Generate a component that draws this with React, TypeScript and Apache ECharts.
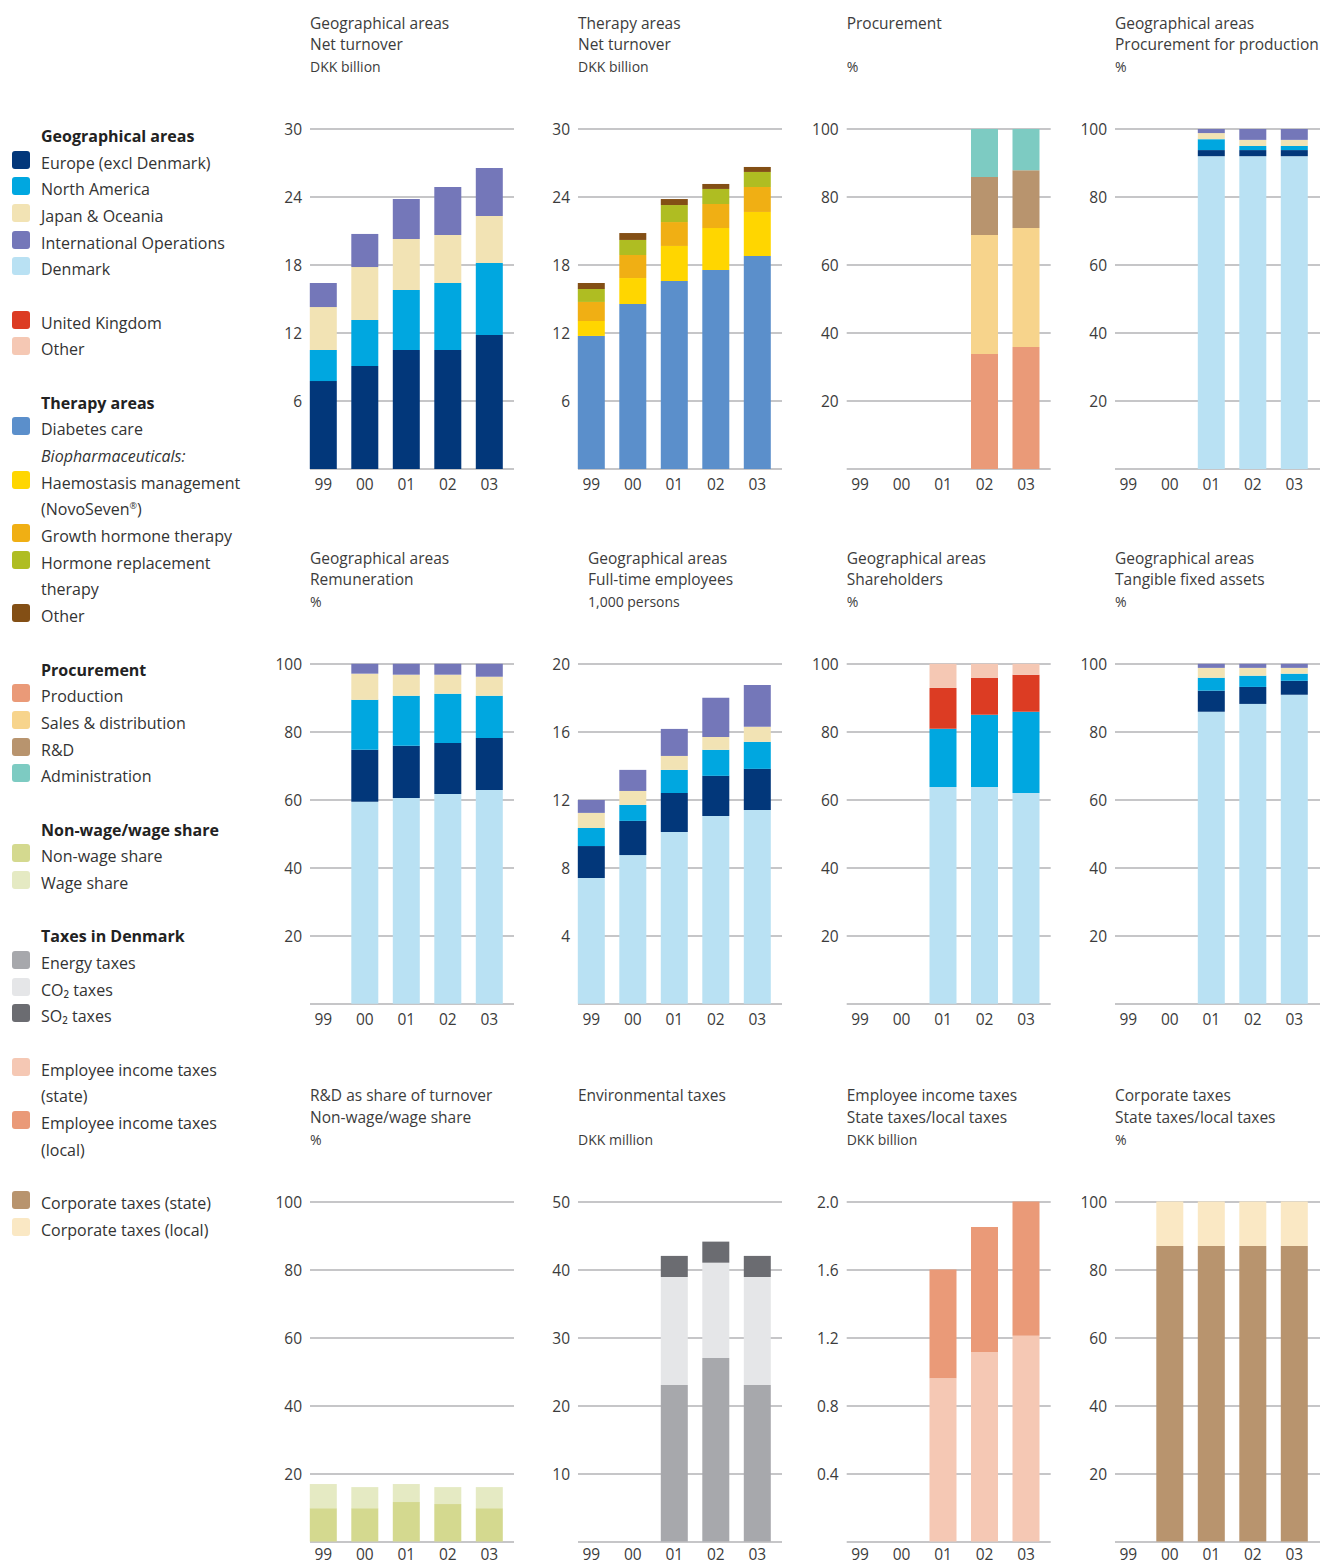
import React, { useEffect, useRef } from 'react';
import * as echarts from 'echarts';

// ---------- categories ----------
const YEARS = ['99', '00', '01', '02', '03'];

// ---------- 1. Geographical areas – Net turnover (DKK billion) ----------
const turnoverEurope = [7.76, 9.09, 10.5, 10.5, 11.82];
const turnoverNorthAmerica = [2.74, 4.06, 5.29, 5.91, 6.36];
const turnoverJapan = [3.79, 4.67, 4.5, 4.24, 4.14];
const turnoverIntl = [2.12, 2.92, 3.53, 4.23, 4.24];

// ---------- 2. Therapy areas – Net turnover (DKK billion) ----------
const therapyDiabetes = [11.74, 14.56, 16.59, 17.56, 18.79];
const therapyHaemostasis = [1.32, 2.29, 3.09, 3.7, 3.89];
const therapyGrowth = [1.68, 2.03, 2.11, 2.12, 2.2];
const therapyHrt = [1.14, 1.33, 1.5, 1.33, 1.33];
const therapyOther = [0.53, 0.61, 0.53, 0.44, 0.44];

// ---------- 3. Procurement (%) ----------
const procProduction = [null, null, null, 33.8, 35.9];
const procSales = [null, null, null, 35.0, 35.0];
const procRnd = [null, null, null, 17.1, 17.0];
const procAdmin = [null, null, null, 14.1, 12.1];

// ---------- 4. Procurement for production (%) ----------
const ppDenmark = [null, null, 92.0, 92.0, 92.0];
const ppEurope = [null, null, 1.8, 1.8, 1.8];
const ppNorthAmerica = [null, null, 3.2, 1.2, 1.2];
const ppJapan = [null, null, 1.8, 1.8, 1.8];
const ppIntl = [null, null, 1.2, 3.2, 3.2];

// ---------- 5. Remuneration (%) ----------
const remDenmark = [null, 59.4, 60.5, 61.7, 62.9];
const remEurope = [null, 15.3, 15.4, 15.0, 15.3];
const remNorthAmerica = [null, 14.7, 14.7, 14.5, 12.4];
const remJapan = [null, 7.7, 6.2, 5.6, 5.6];
const remIntl = [null, 2.9, 3.2, 3.2, 3.8];

// ---------- 6. Full-time employees (1,000 persons) ----------
const empDenmark = [7.4, 8.75, 10.11, 11.05, 11.4];
const empEurope = [1.88, 2.01, 2.29, 2.36, 2.42];
const empNorthAmerica = [1.06, 0.94, 1.36, 1.53, 1.59];
const empJapan = [0.89, 0.82, 0.82, 0.76, 0.88];
const empIntl = [0.76, 1.24, 1.59, 2.3, 2.47];

// ---------- 7. Shareholders (%) ----------
const shDenmark = [null, null, 63.8, 63.8, 62.0];
const shNorthAmerica = [null, null, 17.1, 21.2, 23.9];
const shUk = [null, null, 12.0, 10.9, 10.9];
const shOther = [null, null, 7.1, 4.1, 3.2];

// ---------- 8. Tangible fixed assets (%) ----------
const tfaDenmark = [null, null, 85.9, 88.2, 90.9];
const tfaEurope = [null, null, 6.2, 5.0, 4.1];
const tfaNorthAmerica = [null, null, 3.8, 3.3, 2.1];
const tfaJapan = [null, null, 2.9, 2.3, 1.7];
const tfaIntl = [null, null, 1.2, 1.2, 1.2];

// ---------- 9. R&D as share of turnover (%) ----------
const rdNonWage = [9.8, 9.8, 11.6, 11.0, 9.8];
const rdWage = [7.1, 6.2, 5.3, 5.0, 6.2];

// ---------- 10. Environmental taxes (DKK million) ----------
const envEnergy = [null, null, 23.0, 27.0, 23.0];
const envCo2 = [null, null, 15.9, 14.0, 15.9];
const envSo2 = [null, null, 3.1, 3.1, 3.1];

// ---------- 11. Employee income taxes (DKK billion) ----------
const eitState = [null, null, 0.96, 1.115, 1.21];
const eitLocal = [null, null, 0.64, 0.735, 0.79];

// ---------- 12. Corporate taxes (%) ----------
const corpState = [null, 86.9, 86.9, 86.9, 86.9];
const corpLocal = [null, 13.1, 13.1, 13.1, 13.1];

// ---------- colours ----------
const C = {
  europe: '#02377a', na: '#00a7e0', japan: '#f2e3b4', io: '#7477b9', denmark: '#b9e1f3',
  uk: '#dc3c23', otherGeo: '#f5c8b4',
  diabetes: '#5b8fcb', haemo: '#ffd600', gh: '#f0af14', hrt: '#afbd22', otherTh: '#834f15',
  production: '#ea9a78', sales: '#f7d48c', rnd: '#b8946e', admin: '#7dcbc2',
  nonwage: '#d4d98f', wage: '#e5eac3',
  energy: '#a7a8ac', co2: '#e5e6e8', so2: '#6b6c71',
  empState: '#f5c8b4', empLocal: '#ea9a78', corpState: '#b8946e', corpLocal: '#fae8c4',
};

const FONT = '"Open Sans", "Noto Sans", sans-serif';
const TEXT = '#3c3c3c';
const GRIDLINE = '#b3b3b6';

type S = { name: string; color: string; data: (number | null)[] };
type Chart = { row: number; col: number; titles: string[]; titleX?: number; max: number; interval: number; decimals?: number; series: S[] };

const CHARTS: Chart[] = [
  { row: 0, col: 0, titles: ['Geographical areas', 'Net turnover', 'DKK billion'], max: 30, interval: 6, series: [
    { name: 'Europe (excl Denmark)', color: C.europe, data: turnoverEurope },
    { name: 'North America', color: C.na, data: turnoverNorthAmerica },
    { name: 'Japan & Oceania', color: C.japan, data: turnoverJapan },
    { name: 'International Operations', color: C.io, data: turnoverIntl },
  ] },
  { row: 0, col: 1, titles: ['Therapy areas', 'Net turnover', 'DKK billion'], max: 30, interval: 6, series: [
    { name: 'Diabetes care', color: C.diabetes, data: therapyDiabetes },
    { name: 'Haemostasis management', color: C.haemo, data: therapyHaemostasis },
    { name: 'Growth hormone therapy', color: C.gh, data: therapyGrowth },
    { name: 'Hormone replacement therapy', color: C.hrt, data: therapyHrt },
    { name: 'Other', color: C.otherTh, data: therapyOther },
  ] },
  { row: 0, col: 2, titles: ['Procurement', '', '%'], max: 100, interval: 20, series: [
    { name: 'Production', color: C.production, data: procProduction },
    { name: 'Sales & distribution', color: C.sales, data: procSales },
    { name: 'R&D', color: C.rnd, data: procRnd },
    { name: 'Administration', color: C.admin, data: procAdmin },
  ] },
  { row: 0, col: 3, titles: ['Geographical areas', 'Procurement for production', '%'], max: 100, interval: 20, series: [
    { name: 'Denmark', color: C.denmark, data: ppDenmark },
    { name: 'Europe (excl Denmark)', color: C.europe, data: ppEurope },
    { name: 'North America', color: C.na, data: ppNorthAmerica },
    { name: 'Japan & Oceania', color: C.japan, data: ppJapan },
    { name: 'International Operations', color: C.io, data: ppIntl },
  ] },
  { row: 1, col: 0, titles: ['Geographical areas', 'Remuneration', '%'], max: 100, interval: 20, series: [
    { name: 'Denmark', color: C.denmark, data: remDenmark },
    { name: 'Europe (excl Denmark)', color: C.europe, data: remEurope },
    { name: 'North America', color: C.na, data: remNorthAmerica },
    { name: 'Japan & Oceania', color: C.japan, data: remJapan },
    { name: 'International Operations', color: C.io, data: remIntl },
  ] },
  { row: 1, col: 1, titles: ['Geographical areas', 'Full-time employees', '1,000 persons'], titleX: 588, max: 20, interval: 4, series: [
    { name: 'Denmark', color: C.denmark, data: empDenmark },
    { name: 'Europe (excl Denmark)', color: C.europe, data: empEurope },
    { name: 'North America', color: C.na, data: empNorthAmerica },
    { name: 'Japan & Oceania', color: C.japan, data: empJapan },
    { name: 'International Operations', color: C.io, data: empIntl },
  ] },
  { row: 1, col: 2, titles: ['Geographical areas', 'Shareholders', '%'], max: 100, interval: 20, series: [
    { name: 'Denmark', color: C.denmark, data: shDenmark },
    { name: 'North America', color: C.na, data: shNorthAmerica },
    { name: 'United Kingdom', color: C.uk, data: shUk },
    { name: 'Other', color: C.otherGeo, data: shOther },
  ] },
  { row: 1, col: 3, titles: ['Geographical areas', 'Tangible fixed assets', '%'], max: 100, interval: 20, series: [
    { name: 'Denmark', color: C.denmark, data: tfaDenmark },
    { name: 'Europe (excl Denmark)', color: C.europe, data: tfaEurope },
    { name: 'North America', color: C.na, data: tfaNorthAmerica },
    { name: 'Japan & Oceania', color: C.japan, data: tfaJapan },
    { name: 'International Operations', color: C.io, data: tfaIntl },
  ] },
  { row: 2, col: 0, titles: ['R&D as share of turnover', 'Non-wage/wage share', '%'], max: 100, interval: 20, series: [
    { name: 'Non-wage share', color: C.nonwage, data: rdNonWage },
    { name: 'Wage share', color: C.wage, data: rdWage },
  ] },
  { row: 2, col: 1, titles: ['Environmental taxes', '', 'DKK million'], max: 50, interval: 10, series: [
    { name: 'Energy taxes', color: C.energy, data: envEnergy },
    { name: 'CO2 taxes', color: C.co2, data: envCo2 },
    { name: 'SO2 taxes', color: C.so2, data: envSo2 },
  ] },
  { row: 2, col: 2, titles: ['Employee income taxes', 'State taxes/local taxes', 'DKK billion'], max: 2, interval: 0.4, decimals: 1, series: [
    { name: 'Employee income taxes (state)', color: C.empState, data: eitState },
    { name: 'Employee income taxes (local)', color: C.empLocal, data: eitLocal },
  ] },
  { row: 2, col: 3, titles: ['Corporate taxes', 'State taxes/local taxes', '%'], max: 100, interval: 20, series: [
    { name: 'Corporate taxes (state)', color: C.corpState, data: corpState },
    { name: 'Corporate taxes (local)', color: C.corpLocal, data: corpLocal },
  ] },
];

// legend: [label, colour | null, kind, y]
type L = [string, string | null, 'head' | 'item' | 'italic' | 'cont', number];
const LEGEND: L[] = [
  ['Geographical areas', null, 'head', 136],
  ['Europe (excl Denmark)', C.europe, 'item', 163],
  ['North America', C.na, 'item', 189],
  ['Japan & Oceania', C.japan, 'item', 216],
  ['International Operations', C.io, 'item', 243],
  ['Denmark', C.denmark, 'item', 269],
  ['United Kingdom', C.uk, 'item', 323],
  ['Other', C.otherGeo, 'item', 349],
  ['Therapy areas', null, 'head', 403],
  ['Diabetes care', C.diabetes, 'item', 429],
  ['Biopharmaceuticals:', null, 'italic', 456],
  ['Haemostasis management', C.haemo, 'item', 483],
  ['(NovoSeven{sup|®})', null, 'cont', 509],
  ['Growth hormone therapy', C.gh, 'item', 536],
  ['Hormone replacement', C.hrt, 'item', 563],
  ['therapy', null, 'cont', 589],
  ['Other', C.otherTh, 'item', 616],
  ['Procurement', null, 'head', 670],
  ['Production', C.production, 'item', 696],
  ['Sales & distribution', C.sales, 'item', 723],
  ['R&D', C.rnd, 'item', 750],
  ['Administration', C.admin, 'item', 776],
  ['Non-wage/wage share', null, 'head', 830],
  ['Non-wage share', C.nonwage, 'item', 856],
  ['Wage share', C.wage, 'item', 883],
  ['Taxes in Denmark', null, 'head', 936],
  ['Energy taxes', C.energy, 'item', 963],
  ['CO₂ taxes', C.co2, 'item', 990],
  ['SO₂ taxes', C.so2, 'item', 1016],
  ['Employee income taxes', C.empState, 'item', 1070],
  ['(state)', null, 'cont', 1096],
  ['Employee income taxes', C.empLocal, 'item', 1123],
  ['(local)', null, 'cont', 1150],
  ['Corporate taxes (state)', C.corpState, 'item', 1203],
  ['Corporate taxes (local)', C.corpLocal, 'item', 1230],
];

// layout
const COL_LEFT = [310, 578, 846.7, 1115];
const COL_WIDTH = [204, 204, 204, 205];
const ROW_TOP = [129, 663.8, 1201.5];
const PLOT_H = 340;
const TITLE_Y = [[23, 44, 66], [558, 579, 601], [1095, 1117, 1139]];
const XLABEL_MARGIN = [7, 7, 4];
const BAND = 41.5;
const FIRST_OFFSET = 13.3;

function buildOption() {
  const grid: any[] = [];
  const xAxis: any[] = [];
  const yAxis: any[] = [];
  const series: any[] = [];
  const graphic: any[] = [];

  CHARTS.forEach((ch, i) => {
    const L = COL_LEFT[ch.col];
    const W = COL_WIDTH[ch.col];
    const T = ROW_TOP[ch.row];
    const gA = i * 2;
    const gB = i * 2 + 1;
    grid.push({ left: L, top: T, width: W, height: PLOT_H });
    grid.push({ left: L + FIRST_OFFSET - BAND / 2, top: T, width: BAND * 5, height: PLOT_H });
    xAxis.push({ gridIndex: gA, type: 'category', data: YEARS, show: false });
    yAxis.push({
      gridIndex: gA, type: 'value', min: 0, max: ch.max, interval: ch.interval,
      axisLine: { show: false }, axisTick: { show: false },
      splitLine: { show: true, lineStyle: { color: GRIDLINE, width: 1.5 } },
      axisLabel: {
        color: TEXT, fontSize: 15.5, fontFamily: FONT, margin: 8,
        formatter: (v: number) => (v === 0 ? '' : ch.decimals ? v.toFixed(ch.decimals) : String(Math.round(v))),
      },
    });
    xAxis.push({
      gridIndex: gB, type: 'category', data: YEARS,
      axisLine: { show: false }, axisTick: { show: false },
      axisLabel: { color: TEXT, fontSize: 15.5, fontFamily: FONT, margin: XLABEL_MARGIN[ch.row] },
    });
    yAxis.push({ gridIndex: gB, type: 'value', min: 0, max: ch.max, show: false, splitLine: { show: false } });
    ch.series.forEach((s) => {
      series.push({
        type: 'bar', name: s.name, xAxisIndex: gB, yAxisIndex: gB, stack: 'st' + i,
        barWidth: 27, data: s.data, itemStyle: { color: s.color }, silent: true,
      });
    });
    const tx = ch.titleX ?? L;
    ch.titles.forEach((t, k) => {
      if (!t) return;
      graphic.push({
        type: 'text', x: tx, y: TITLE_Y[ch.row][k], silent: true,
        style: {
          text: t, fill: TEXT, fontFamily: FONT, fontSize: k === 2 ? 14 : 15.5,
          textVerticalAlign: 'middle', verticalAlign: 'middle',
        },
      });
    });
  });

  LEGEND.forEach(([label, color, kind, y]) => {
    if (color) {
      graphic.push({
        type: 'rect', silent: true,
        shape: { x: 12, y: y - 12, width: 18, height: 18, r: 3 },
        style: { fill: color },
      });
    }
    graphic.push({
      type: 'text', x: 41, y, silent: true,
      style: {
        text: label, fill: kind === 'head' ? '#222' : '#333', fontFamily: FONT, fontSize: 16,
        fontWeight: kind === 'head' ? 'bold' : 'normal', fontStyle: kind === 'italic' ? 'italic' : 'normal',
        textVerticalAlign: 'middle', verticalAlign: 'middle',
        rich: { sup: { fontSize: 9, fontFamily: FONT, fill: '#333', padding: [0, 0, 7, 0] } },
      },
    });
  });

  return { animation: false, grid, xAxis, yAxis, series, graphic };
}

export default function App() {
  const ref = useRef<HTMLDivElement>(null);
  useEffect(() => {
    if (!ref.current) return;
    const chart = echarts.init(ref.current, null, { renderer: 'svg' });
    chart.setOption(buildOption());
    return () => chart.dispose();
  }, []);
  return <div ref={ref} style={{ position: 'absolute', left: 0, top: 0, width: 1321, height: 1564, background: '#fff' }} />;
}
